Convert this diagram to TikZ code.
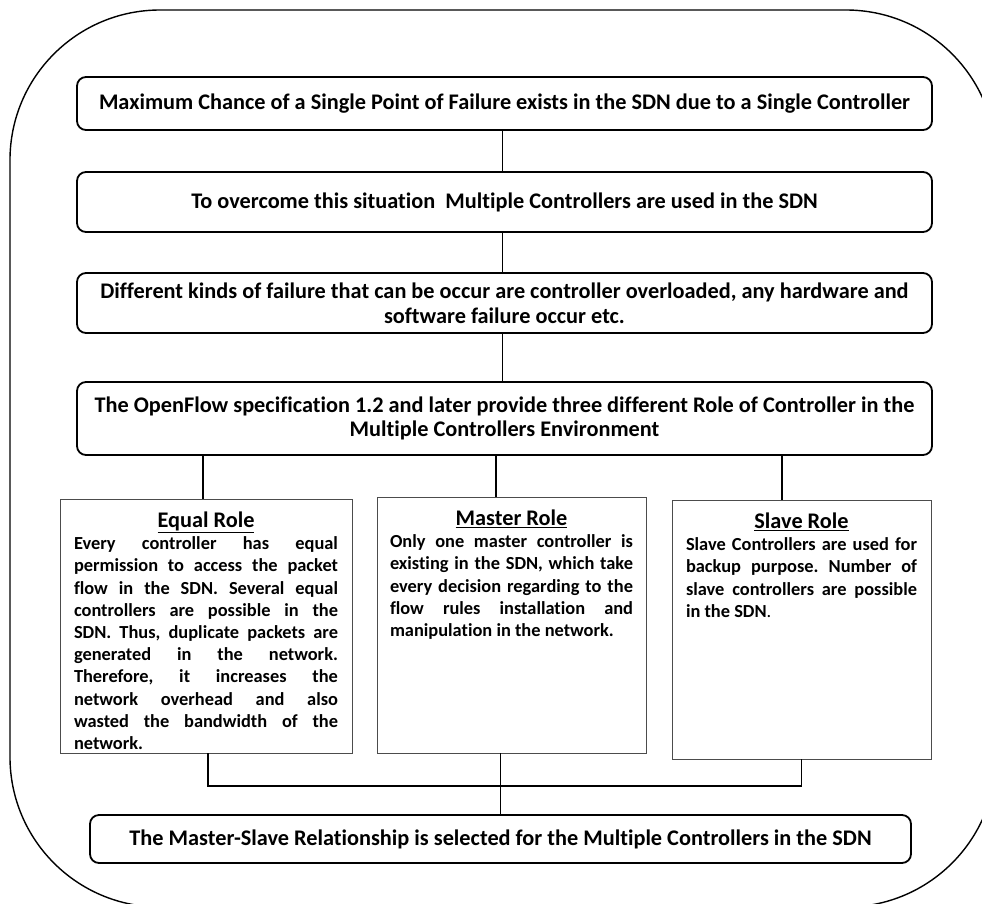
\documentclass[tikz,border=0pt]{standalone}
\usepackage{fontspec}
\setmainfont{Carlito}[Ligatures=NoCommon]
\begin{document}
\begin{tikzpicture}[x=1pt,y=-1pt,
  flowbox/.style={draw=black, line width=1.8pt, rounded corners=9pt,
    minimum width=855pt, align=center, inner sep=0pt,
    font=\fontsize{22.3}{24.5}\selectfont\bfseries},
  rolebox/.style={draw=black!70, line width=0.9pt, inner xsep=14pt, inner ysep=0pt},
  link/.style={draw=black, line width=1.8pt},
]
\useasboundingbox (0,0) rectangle (982,903);

% outer frame, partly cut off by the page edge
\begin{scope}
  \clip (0,0) rectangle (982,903);
  \draw[line width=1.4pt, rounded corners=150pt] (10,10) rectangle (996,907);
\end{scope}

% main chain
\node[flowbox, minimum height=53pt] (b1) at (504.5,103.5)
  {Maximum Chance of a Single Point of Failure exists in the SDN due to a Single Controller};
\node[flowbox, minimum height=60pt] (b2) at (504.5,202)
  {To overcome this situation\ \ Multiple Controllers are used in the SDN};
\node[flowbox, minimum height=60pt] (b3) at (504.5,303)
  {Different kinds of failure that can be occur are controller overloaded, any hardware and\\
   software failure occur etc.};
\node[flowbox, minimum height=73pt] (b4) at (504.5,418.5)
  {The OpenFlow specification 1.2 and later provide three different Role of Controller in the\\
   Multiple Controllers Environment};

% role boxes: underlined heading, then justified body text
\newcommand{\rolehead}[1]{{\centering\fontsize{22.3}{25}\selectfont
  \rule{0pt}{28.5pt}\underline{#1}\par}}
\newcommand{\rolebody}{\bfseries\frenchspacing\fontsize{18.4}{22.2}\selectfont}
\node[rolebox] (equal) at (206,626)
  {\parbox[c][254pt][t]{264pt}{\rolebody
   \rolehead{Equal Role}
   Every controller has equal\linebreak
   permission to access the packet\linebreak
   flow in the SDN. Several equal\linebreak
   controllers are possible in the\linebreak
   SDN. Thus, duplicate packets are\linebreak
   generated in the network.\linebreak
   Therefore, it increases the\linebreak
   network overhead and also\linebreak
   wasted the bandwidth of the\linebreak
   network.}};
\node[rolebox, inner xsep=13pt] (master) at (511.5,625)
  {\parbox[c][256pt][t]{243pt}{\rolebody
   \rolehead{Master Role}
   Only one master controller is\linebreak
   existing in the SDN, which take\linebreak
   every decision regarding to the\linebreak
   flow rules installation and\linebreak
   manipulation in the network.}};
\node[rolebox] (slave) at (801.5,629.5)
  {\parbox[c][259pt][t]{231pt}{\rolebody
   \rolehead{Slave Role}
   Slave Controllers are used for\linebreak
   backup purpose. Number of\linebreak
   slave controllers are possible\linebreak
   in the SDN\mdseries.}};

% outcome
\node[flowbox, minimum width=821pt, minimum height=48pt] (res) at (500.5,839)
  {The Master-Slave Relationship is selected for the Multiple Controllers in the SDN};

% connectors
\coordinate (bus) at (0,786);
\draw[link] ([xshift=-2pt]b1.south) -- ([xshift=-2pt]b2.north);
\draw[link] ([xshift=-2pt]b2.south) -- ([xshift=-2pt]b3.north);
\draw[link] ([xshift=-2pt]b3.south) -- ([xshift=-2pt]b4.north);
\draw[link] ([xshift=-3pt]equal.north) -- ([xshift=-3pt]equal.north |- b4.south);
\draw[link] ([xshift=-15.5pt]master.north) -- ([xshift=-15.5pt]master.north |- b4.south);
\draw[link] ([xshift=-19.5pt]slave.north) -- ([xshift=-19.5pt]slave.north |- b4.south);
\draw[link] ([xshift=2pt]equal.south) -- ([xshift=2pt]equal.south |- bus)
  -- (slave.south |- bus) -- (slave.south);
\draw[link] (res.north |- master.south) -- (res.north);
\end{tikzpicture}
\end{document}
